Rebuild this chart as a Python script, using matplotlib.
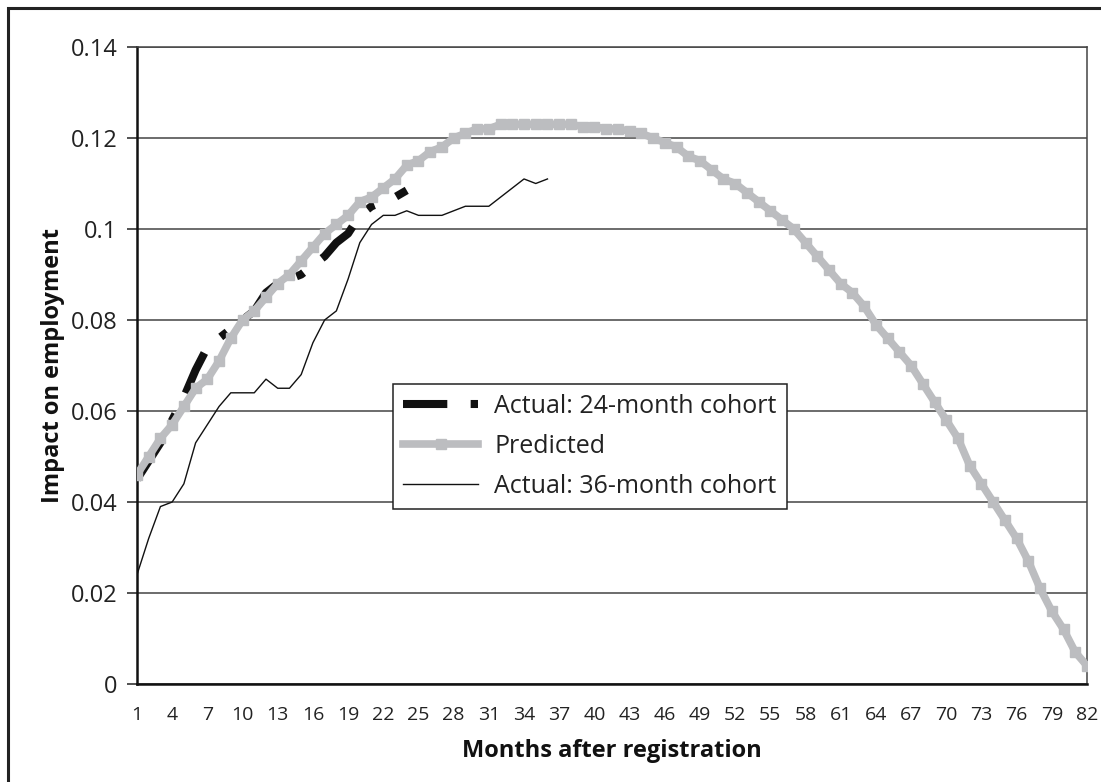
import matplotlib
matplotlib.use("Agg")
import matplotlib.pyplot as plt
from matplotlib.patches import Rectangle

plt.rcParams["font.family"] = ["Open Sans", "DejaVu Sans"]

# Monate 1..82
months = list(range(1, 83))

predicted = [
    0.046, 0.050, 0.054, 0.057, 0.061, 0.065, 0.067, 0.071, 0.076, 0.080,
    0.082, 0.085, 0.088, 0.090, 0.093, 0.096, 0.099, 0.101, 0.103, 0.106,
    0.107, 0.109, 0.111, 0.114, 0.115, 0.117, 0.118, 0.120, 0.121, 0.122,
    0.122, 0.123, 0.123, 0.123, 0.123, 0.123, 0.123, 0.123, 0.1225, 0.1225,
    0.122, 0.122, 0.1215, 0.121, 0.120, 0.119, 0.118, 0.116, 0.115, 0.113,
    0.111, 0.110, 0.108, 0.106, 0.104, 0.102, 0.100, 0.097, 0.094, 0.091,
    0.088, 0.086, 0.083, 0.079, 0.076, 0.073, 0.070, 0.066, 0.062, 0.058,
    0.054, 0.048, 0.044, 0.040, 0.036, 0.032, 0.027, 0.021, 0.016, 0.012,
    0.007, 0.004,
]

cohort24 = [
    0.045, 0.049, 0.053, 0.058, 0.063, 0.069, 0.074, 0.076, 0.078, 0.080,
    0.082, 0.086, 0.088, 0.089, 0.090, 0.092, 0.094, 0.097, 0.099, 0.103,
    0.105, 0.106, 0.107, 0.1085,
]

cohort36 = [
    0.024, 0.032, 0.039, 0.040, 0.044, 0.053, 0.057, 0.061, 0.064, 0.064,
    0.064, 0.067, 0.065, 0.065, 0.068, 0.075, 0.080, 0.082, 0.089, 0.097,
    0.101, 0.103, 0.103, 0.104, 0.103, 0.103, 0.103, 0.104, 0.105, 0.105,
    0.105, 0.107, 0.109, 0.111, 0.110, 0.111,
]

xticks = list(range(1, 83, 3))
yticks = [0, 0.02, 0.04, 0.06, 0.08, 0.10, 0.12, 0.14]
ytick_labels = ["0", "0.02", "0.04", "0.06", "0.08", "0.1", "0.12", "0.14"]

fig = plt.figure(figsize=(11.01, 7.82), dpi=100)
ax = fig.add_axes([0.1244, 0.1253, 0.8629, 0.8146])

grid_col = "#444444"
for v in yticks:
    ax.axhline(v, color=grid_col, lw=1.1, zorder=0)

l24, = ax.plot(months[:len(cohort24)], cohort24, color="#111111", lw=5.8,
               solid_capstyle="butt", dash_capstyle="butt", zorder=2,
               label="Actual: 24-month cohort")
l24.set_dashes((5.5, 2.9, 1, 2.9))

ax.plot(months, predicted, color="#bcbdc0", lw=5.5, marker="s", ms=7,
        mec="#bcbdc0", zorder=3, label="Predicted")

ax.plot(months[:len(cohort36)], cohort36, color="#111111", lw=1.0, zorder=4,
        label="Actual: 36-month cohort")

ax.set_xlim(1, 82)
ax.set_ylim(0, 0.14)
ax.set_xticks(xticks)
ax.set_xticklabels([str(t) for t in xticks])
ax.set_yticks(yticks)
ax.set_yticklabels(ytick_labels)
ax.tick_params(axis="x", length=0, pad=16, labelsize=14, colors="#222222")
ax.tick_params(axis="y", length=7, width=1.1, pad=7, labelsize=17,
               colors="#222222", direction="out")

for s in ["left", "bottom"]:
    ax.spines[s].set_color("#111111")
    ax.spines[s].set_linewidth(1.8)
for s in ["top", "right"]:
    ax.spines[s].set_color(grid_col)
    ax.spines[s].set_linewidth(1.1)

ax.set_xlabel("Months after registration", fontsize=17, fontweight="bold",
              color="#111111")
ax.xaxis.set_label_coords(0.5, -0.087)
ax.set_ylabel("Impact on employment", fontsize=17, fontweight="bold",
              color="#111111")
ax.yaxis.set_label_coords(-0.076, 0.5)

leg = ax.legend(loc="upper left", bbox_to_anchor=(0.2695, 0.471),
                borderaxespad=0, fontsize=18, frameon=True, fancybox=False,
                edgecolor="#222222", framealpha=1, handlelength=3.0,
                handletextpad=0.65, labelspacing=0.6, borderpad=0.4,
                numpoints=1)
leg.get_frame().set_linewidth(1.1)
for t in leg.get_texts():
    t.set_color("#222222")

# Rahmen um die ganze Grafik
fig.patches.append(Rectangle((8 / 1101, -0.1), 1.2, 1 - 8 / 782 + 0.1,
                             transform=fig.transFigure, fill=False,
                             lw=2.2, ec="#222222"))

fig.savefig("out.png", dpi=100)
